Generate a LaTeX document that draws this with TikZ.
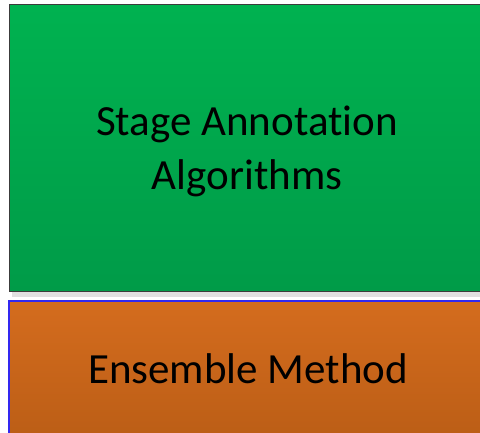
\documentclass[tikz,border=0pt]{standalone}
\usepackage{fontspec}
\setmainfont[Ligatures={NoCommon}]{Carlito}
\definecolor{gtop}{RGB}{0,178,80}
\definecolor{gbot}{RGB}{0,155,72}
\definecolor{gborder}{RGB}{60,60,60}
\definecolor{otop}{RGB}{212,108,30}
\definecolor{obot}{RGB}{188,94,22}
\definecolor{oborder}{RGB}{50,40,240}
\begin{document}
\begin{tikzpicture}[x=1pt,y=1pt,
  box/.style={inner sep=0pt, outer sep=0pt},
  label text/.style={inner sep=0pt, align=center, text=black,
    font=\fontsize{43}{54}\selectfont},
]
\useasboundingbox (0,0) rectangle (480,433);
\fill[white] (0,0) rectangle (480,433);
% shadow under green box
\fill[black!12] (12,136) rectangle (482,141);
% green box
\node[box, minimum width=476pt, minimum height=287pt,
  top color=gtop, bottom color=gbot,
  draw=gborder, line width=1pt]
  (stage) at (247,284.5) {};
\node[label text] (stagetxt) at ([yshift=-3pt]stage.center) {Stage Annotation\\Algorithms};
% orange box
\node[box, minimum width=476pt, minimum height=134pt,
  top color=otop, bottom color=obot]
  (ens) at (247,65) {};
\node[label text] (enstxt) at ([xshift=1pt,yshift=-0.5pt]ens.center) {Ensemble Method};
\draw[oborder, line width=1.2pt]
  (ens.south west) -- (ens.north west) -- (ens.north east);
\end{tikzpicture}
\end{document}
